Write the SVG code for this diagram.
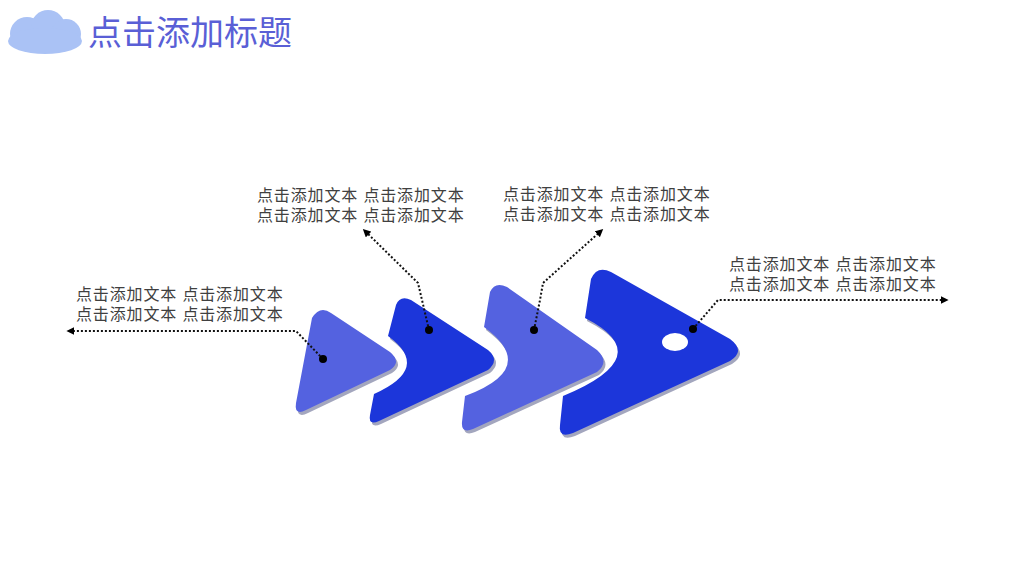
<svg xmlns="http://www.w3.org/2000/svg" width="1024" height="576" viewBox="0 0 1024 576">
<defs>
<style>
.t{font-family:"Liberation Sans","Noto Sans CJK SC",sans-serif;font-size:16px;letter-spacing:0.85px;fill:#404040}
.light{fill:#5462E0}
.dark{fill:#1C36DA}
.sh{fill:#A3A6BE}
.con{fill:none;stroke:#111;stroke-width:2;stroke-dasharray:2 2}
.dot{fill:#000}
</style>
<marker id="arr" viewBox="0 0 10 10" refX="8" refY="5" markerWidth="4" markerHeight="4" orient="auto-start-reverse">
<path d="M0,0 L10,5 L0,10 Z" fill="#000"/>
</marker>
<path id="p1" d="M312,318 Q320,305 331,313 L390,352 Q402,362 390,370 L306,410 Q294,416 296,403 Z"/>
<path id="p2" d="M388,336 L396,305 Q400,295 411,300 L488,350 Q500,360 488,370 L379,421 Q368,426 370,415 L374,394 Q432,368 388,336 Z"/>
<path id="p3" d="M484,327 L490,292 Q495,281 507,287 L597,350 Q610,362 597,372 L473,429 Q461,434 462,422 L465,396 Q540,368 484,327 Z"/>
<path id="p4" d="M585,318 L591,279 Q597,265 611,272 L730,339 Q746,351 730,361 L573,433 Q558,439 560,425 L563,396 Q660,356 585,318 Z"/>
</defs>
<rect width="1024" height="576" fill="#fff"/>
<g id="title">
<g fill="#AAC2F5">
<circle cx="27" cy="34" r="17"/>
<circle cx="48" cy="27" r="17"/>
<circle cx="66" cy="34" r="15"/>
<ellipse cx="45" cy="41" rx="37" ry="13"/>
</g>
<text x="88" y="45" style="font-family:'Noto Sans CJK SC','Noto Sans',sans-serif;font-size:34px;fill:#5A5FD6">点击添加标题</text>
</g>
<g id="shape1">
<use href="#p1" class="sh" transform="translate(2,3)"/>
<use href="#p1" class="light"/>
</g>
<g id="shape2">
<use href="#p2" class="sh" transform="translate(2,3)"/>
<use href="#p2" class="dark"/>
</g>
<g id="shape3">
<use href="#p3" class="sh" transform="translate(2,3)"/>
<use href="#p3" class="light"/>
</g>
<g id="shape4">
<use href="#p4" class="sh" transform="translate(2,3)"/>
<use href="#p4" class="dark"/>
<ellipse cx="675" cy="342" rx="13" ry="9" fill="#fff"/>
</g>
<g id="connectors">
<path class="con" d="M323,359 L296,331 L68,331" marker-end="url(#arr)"/>
<path class="con" d="M429,330 L422,300 L418,283 L364,230" marker-end="url(#arr)"/>
<path class="con" d="M534,330 L540,300 L543,283 L602,230" marker-end="url(#arr)"/>
<path class="con" d="M693,329 L718,300 L947,300" marker-end="url(#arr)"/>
<circle class="dot" cx="323" cy="359" r="4"/>
<circle class="dot" cx="429" cy="330" r="4"/>
<circle class="dot" cx="534" cy="330" r="4"/>
<circle class="dot" cx="693" cy="329" r="4"/>
</g>
<g id="text1">
<text class="t" x="76" y="300">点击添加文本 点击添加文本<tspan x="76" dy="20">点击添加文本 点击添加文本</tspan></text>
</g>
<g id="text2">
<text class="t" x="257" y="201">点击添加文本 点击添加文本<tspan x="257" dy="20">点击添加文本 点击添加文本</tspan></text>
</g>
<g id="text3">
<text class="t" x="503" y="200">点击添加文本 点击添加文本<tspan x="503" dy="20">点击添加文本 点击添加文本</tspan></text>
</g>
<g id="text4">
<text class="t" x="729" y="270">点击添加文本 点击添加文本<tspan x="729" dy="20">点击添加文本 点击添加文本</tspan></text>
</g>
</svg>
